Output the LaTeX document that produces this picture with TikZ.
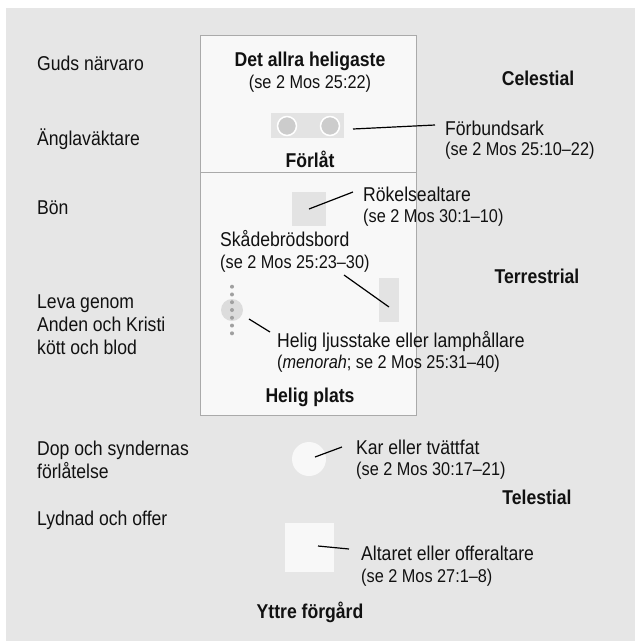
\documentclass[tikz,border=0pt]{standalone}
\usepackage{fontspec}
\setmainfont{Liberation Sans}[FakeStretch=0.88]
\definecolor{bg}{HTML}{E6E6E6}
\definecolor{boxfill}{HTML}{F8F8F8}
\definecolor{boxline}{HTML}{AAAAAA}
\definecolor{objgrey}{HTML}{E3E3E3}
\definecolor{cherub}{HTML}{CCCCCC}
\definecolor{dotgrey}{HTML}{A0A0A0}
\definecolor{ink}{HTML}{111111}
\tikzset{
  lbl/.style={inner sep=0pt, anchor=base west, text=ink, font=\fontsize{20}{23}\selectfont},
  reflbl/.style={inner sep=0pt, anchor=base west, text=ink, font=\fontsize{18.5}{22}\selectfont},
  ttl/.style={inner sep=0pt, anchor=base, text=ink, font=\fontsize{20}{23}\selectfont\bfseries},
  reftxt/.style={inner sep=0pt, anchor=base, text=ink, font=\fontsize{18.5}{22}\selectfont},
  obj/.style={draw=none, fill=objgrey, inner sep=0pt, outer sep=0pt},
  conn/.style={draw=black, line width=1.2pt},
}
\begin{document}
\begin{tikzpicture}[x=1pt,y=-1pt]
\useasboundingbox (0,0) rectangle (635,641);
\fill[bg] (6,8) rectangle (635,641);
% tabernacle box
\draw[boxline, fill=boxfill, line width=1pt] (200,35) rectangle (416,415);
\draw[boxline, line width=1pt] (200,172) -- (416,172);

% left labels
\node[lbl] (guds) at (37,70.7) {Guds närvaro};
\node[lbl] (angla) at (37,145) {Änglaväktare};
\node[lbl] (bon) at (37,214) {Bön};
\node[lbl] (leva1) at (37,308) {Leva genom};
\node[lbl] (leva2) at (37,331) {Anden och Kristi};
\node[lbl] (leva3) at (37,354) {kött och blod};
\node[lbl] (dop1) at (37,455) {Dop och syndernas};
\node[lbl] (dop2) at (37,478) {förlåtelse};
\node[lbl] (lydnad) at (37,525) {Lydnad och offer};

% right labels
\node[ttl] (celestial) at (538,85) {Celestial};
\node[ttl] (terrestrial) at (537,283) {Terrestrial};
\node[ttl] (telestial) at (537,504) {Telestial};

% box titles
\node[ttl] (heligaste) at (310,66.7) {Det allra heligaste};
\node[reftxt] (heligref) at (310,88) {(se 2 Mos 25:22)};
\node[ttl] (forlat) at (310,167) {Förlåt};
\node[ttl] (heligplats) at (310,402) {Helig plats};
\node[ttl] (yttre) at (310,618) {Yttre förgård};

% ark of the covenant
\node[obj, minimum width=73pt, minimum height=25pt] (ark) at (307.5,125.5) {};
\fill[cherub, draw=white, line width=1.5pt] (287,126) circle (9.5);
\fill[cherub, draw=white, line width=1.5pt] (330,126) circle (9.5);
\node[lbl] (arklbl) at (445,135) {Förbundsark};
\node[reflbl] (arkref) at (445,155) {(se 2 Mos 25:10–22)};
\coordinate (arkstart) at (353,129);
\coordinate (arkend) at (435,125);
\draw[conn] (arkstart) -- (arkend);

% altar of incense
\node[obj, minimum width=34pt, minimum height=34pt] (incense) at (309,209) {};
\node[lbl] (inclbl) at (363,201) {Rökelsealtare};
\node[reflbl] (incref) at (363,222) {(se 2 Mos 30:1–10)};
\coordinate (incend) at (353,192);
\draw[conn] (incense.center) -- (incend);

% table of shewbread
\node[obj, minimum width=20pt, minimum height=44pt] (table) at (389,300) {};
\node[lbl] (tablelbl) at (220,246) {Skådebrödsbord};
\node[reflbl] (tableref) at (220,268) {(se 2 Mos 25:23–30)};
\coordinate (tablestart) at (344,275);
\coordinate (tableend) at (389,307);
\draw[conn] (tablestart) -- (tableend);

% menorah
\node[obj, circle, minimum size=22pt, fill=objgrey!97!black] (menorah) at (232,310) {};
\foreach \k in {0,...,6} {
  \fill[dotgrey] (232,286.7+7.77*\k) circle (2);
}
\node[lbl] (menlbl) at (277,347) {Helig ljusstake eller lamphållare};
\node[reflbl] (menref) at (277,368) {(\textit{menorah}; se 2 Mos 25:31–40)};
\coordinate (menstart) at (249,319);
\coordinate (menend) at (270,332);
\draw[conn] (menstart) -- (menend);

% laver
\node[obj, circle, minimum size=34pt, fill=boxfill] (laver) at (309,459) {};
\node[lbl] (laverlbl) at (356,454) {Kar eller tvättfat};
\node[reflbl] (laverref) at (356,475) {(se 2 Mos 30:17–21)};
\coordinate (laverstart) at (315,457);
\coordinate (laverend) at (342,447);
\draw[conn] (laverstart) -- (laverend);

% altar of sacrifice
\node[obj, minimum width=49pt, minimum height=49pt, fill=boxfill] (altar) at (309.5,547.5) {};
\node[lbl] (altarlbl) at (361,560) {Altaret eller offeraltare};
\node[reflbl] (altarref) at (361,582) {(se 2 Mos 27:1–8)};
\coordinate (altarstart) at (318,546);
\coordinate (altarend) at (349,549);
\draw[conn] (altarstart) -- (altarend);
\end{tikzpicture}
\end{document}
